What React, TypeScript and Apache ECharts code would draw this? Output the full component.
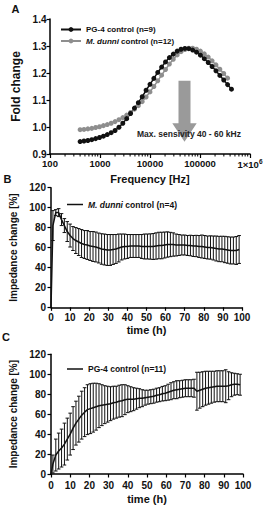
import React, { useEffect, useRef } from "react";
import * as echarts from "echarts";

const FONT = "'Liberation Sans', Arial, Helvetica, sans-serif";

// Panel A: frequency sweep
const freqHz = [400, 478, 572, 684, 818, 978, 1169, 1398, 1672, 2000, 2391, 2859, 3419, 4087, 4887, 5843, 6987, 8354, 9989, 11944, 14282, 17077, 20419, 24415, 29193, 34906, 41737, 49905, 59672, 71350, 85313, 102009, 121972, 145842, 174384, 208511, 249317, 298108, 356449, 426207];
const pg4Fold = [0.946, 0.948, 0.95, 0.953, 0.957, 0.961, 0.966, 0.972, 0.979, 0.987, 0.999, 1.014, 1.031, 1.05, 1.07, 1.09, 1.112, 1.136, 1.158, 1.18, 1.202, 1.222, 1.241, 1.257, 1.27, 1.281, 1.288, 1.291, 1.29, 1.285, 1.277, 1.266, 1.253, 1.239, 1.224, 1.208, 1.191, 1.174, 1.157, 1.14];
const dunniFold = [0.99, 0.991, 0.993, 0.995, 0.998, 1.001, 1.005, 1.009, 1.014, 1.02, 1.027, 1.035, 1.044, 1.054, 1.066, 1.079, 1.094, 1.111, 1.13, 1.15, 1.171, 1.192, 1.213, 1.233, 1.251, 1.267, 1.279, 1.287, 1.292, 1.292, 1.288, 1.281, 1.271, 1.259, 1.245, 1.23, 1.214, 1.198, 1.181];
const freqTicksHz = [100, 1000, 10000, 100000, 1000000];
const freqMinorTicksHz = [200, 300, 400, 500, 600, 700, 800, 900, 2000, 3000, 4000, 5000, 6000, 7000, 8000, 9000, 20000, 30000, 40000, 50000, 60000, 70000, 80000, 90000, 200000, 300000, 400000, 500000, 600000, 700000, 800000, 900000];

// Panels B and C: time course (mean and SD)
const timeH = [0, 1, 2.5, 4, 5.5, 7, 8.5, 10, 11.5, 13, 14.5, 16, 17.5, 19, 20.5, 22, 23.5, 25, 26.5, 28, 29.5, 31, 32.5, 34, 35.5, 37, 38.5, 40, 41.5, 43, 44.5, 46, 47.5, 49, 50.5, 52, 53.5, 55, 56.5, 58, 59.5, 61, 62.5, 64, 65.5, 67, 68.5, 70, 71.5, 73, 74.5, 76, 77.5, 79, 80.5, 82, 83.5, 85, 86.5, 88, 89.5, 91, 92.5, 94, 95.5, 97, 98.5];
const dunniMean = [0, 82, 95, 95, 88, 82, 76, 72, 69, 67, 65.5, 64, 63, 62.5, 61.5, 61, 60.5, 59.5, 58.5, 58, 57.5, 57.5, 58, 58.5, 59.5, 60.5, 61, 61, 61.5, 61.5, 61.5, 61.5, 61, 61, 61, 61, 61, 61.5, 62, 62, 62.5, 63, 63, 63, 62.5, 62.5, 62.5, 62.5, 62, 62, 61.5, 61.5, 61, 61, 60.5, 60, 60, 59.5, 59, 58.5, 58.5, 58, 57.5, 57, 57, 57, 58];
const dunniSd = [0, 15, 3, 4, 6, 7, 10, 11.5, 12, 13, 13.5, 14, 14, 14.5, 14.5, 15, 15, 15, 15.3, 15.5, 15.5, 15.5, 15, 14.5, 14, 13, 12.5, 12, 11.5, 11.5, 11.5, 11.5, 12, 12.5, 12.5, 12.7, 13, 13.2, 13.3, 13.3, 13, 12.7, 12.2, 11.7, 11, 10.5, 10, 10, 10, 10.3, 10.5, 10.7, 11, 11.5, 11.5, 11.5, 11.7, 12, 12.5, 12.7, 12.8, 13.2, 13.3, 13.5, 13.5, 14, 14];
const pg4Mean = [0, 10, 19, 23, 26, 30, 35, 40, 46, 51, 55, 59, 62, 64.5, 65.5, 66.5, 67.5, 68.5, 69, 69.5, 70, 70.5, 71.5, 72, 73, 73.5, 74.5, 75, 75, 75, 75.5, 76, 76, 76.5, 77, 77.5, 78, 79, 79.5, 80.5, 81, 82, 83, 84, 84.5, 85, 85.5, 86, 86, 86, 86, 83, 84, 85, 86, 86.5, 87, 87.5, 88, 88, 88, 88, 88.5, 89.5, 90, 90, 89.5];
const pg4Sd = [0, 9, 16, 18, 19, 21, 21, 21, 21.5, 22, 23, 24, 24.5, 25, 25, 24.5, 23.5, 22, 20.5, 19, 18, 17, 16.5, 16, 16, 16, 15, 13.5, 12.5, 11.5, 10.5, 9.5, 8.5, 7.5, 7, 7, 7, 7, 7, 7.3, 7.5, 8, 8.5, 8.5, 9, 8.5, 8.5, 8.5, 8.5, 8.5, 9, 19, 18, 17.5, 17, 16.5, 16, 15.5, 15.5, 15.5, 15.5, 16.5, 14, 12, 11, 10.5, 10.5];

const NAME_PG4_A = "PG-4 control (n=9)";
const NAME_DUNNI_A = "M. dunni control (n=12)";
const NAME_DUNNI_B = "M. dunni control (n=4)";
const NAME_PG4_C = "PG-4 control (n=11)";

const italicFormatter = (name: string) =>
  name.startsWith("M. dunni") ? "{i|M. dunni}" + name.slice(8) : name;

function errorBarSeries(idx: number, mean: number[], sd: number[]) {
  const data = timeH
    .map((t, i) => [t, mean[i] - sd[i], mean[i] + sd[i]])
    .filter((d, i) => sd[i] > 0);
  return {
    type: "custom",
    xAxisIndex: idx,
    yAxisIndex: idx,
    silent: true,
    encode: { x: 0, y: [1, 2] },
    data,
    renderItem: (params: any, api: any) => {
      const x = api.value(0);
      const hi = api.coord([x, api.value(2)]);
      const lo = api.coord([x, api.value(1)]);
      const w = 1.8;
      const st = { stroke: "#111", lineWidth: 1 };
      return {
        type: "group",
        children: [
          { type: "line", shape: { x1: hi[0], y1: hi[1], x2: lo[0], y2: lo[1] }, style: st },
          { type: "line", shape: { x1: hi[0] - w, y1: hi[1], x2: hi[0] + w, y2: hi[1] }, style: st },
          { type: "line", shape: { x1: lo[0] - w, y1: lo[1], x2: lo[0] + w, y2: lo[1] }, style: st },
        ],
      };
    },
  };
}

const axisLineStyle = { color: "#000", width: 1.5 };
const tickLabel = { color: "#111", fontFamily: FONT, fontWeight: "bold" as const, fontSize: 10 };

function timeAxes(idx: number, xGap: number, yGap: number, xMargin: number) {
  const x = {
    type: "value",
    gridIndex: idx,
    min: 0,
    max: 100,
    interval: 10,
    axisLine: { show: true, onZero: false, lineStyle: axisLineStyle },
    axisTick: { show: true, length: 3.5, lineStyle: { width: 1.2, color: "#000" } },
    axisLabel: { ...tickLabel, margin: xMargin },
    splitLine: { show: false },
    name: "time (h)",
    nameLocation: "middle",
    nameGap: xGap,
    nameTextStyle: { fontFamily: FONT, fontWeight: "bold", fontSize: 11, color: "#111" },
  };
  const y = {
    type: "value",
    gridIndex: idx,
    min: 0,
    max: 120,
    interval: 20,
    axisLine: { show: true, lineStyle: axisLineStyle },
    axisTick: { show: true, length: 3.5, lineStyle: { width: 1.2, color: "#000" } },
    axisLabel: { ...tickLabel, margin: 5 },
    splitLine: { show: false },
    name: "Impedance change [%]",
    nameLocation: "middle",
    nameGap: yGap,
    nameTextStyle: { fontFamily: FONT, fontWeight: "bold", fontSize: 10, color: "#111" },
  };
  return { x, y };
}

export default function App() {
  const ref = useRef<HTMLDivElement>(null);
  useEffect(() => {
    if (!ref.current) return;
    const chart = echarts.init(ref.current, undefined, { renderer: "svg" });
    const tB = timeAxes(1, 17, 19, 5.5);
    const tC = timeAxes(2, 19, 19, 6);
    const legendText = {
      fontFamily: FONT,
      fontWeight: "bold" as const,
      color: "#111",
    };
    const option: any = {
      animation: false,
      backgroundColor: "#fff",
      grid: [
        { left: 50, top: 19, width: 200, height: 135 },
        { left: 51, top: 187.7, width: 191, height: 119.6 },
        { left: 51, top: 354.3, width: 192, height: 119.7 },
      ],
      xAxis: [
        {
          type: "log",
          gridIndex: 0,
          logBase: 10,
          min: freqTicksHz[0],
          max: freqTicksHz[freqTicksHz.length - 1],
          axisLine: { show: true, onZero: false, lineStyle: axisLineStyle },
          axisTick: { show: true, length: 4, lineStyle: { width: 1.2, color: "#000" } },
          axisLabel: {
            ...tickLabel,
            fontSize: 9.5,
            margin: 4,
            formatter: (v: number) => (v >= 999999 ? "1×10{sup|6}" : String(Math.round(v))),
            rich: {
              sup: { fontFamily: FONT, fontWeight: "bold", fontSize: 6.5, color: "#111", verticalAlign: "top", padding: [0, 0, 6, 0] },
            },
          },
          splitLine: { show: false },
          minorTick: { show: false },
          name: "Frequency [Hz]",
          nameLocation: "middle",
          nameGap: 19,
          nameTextStyle: { fontFamily: FONT, fontWeight: "bold", fontSize: 11, color: "#111" },
        },
        tB.x,
        tC.x,
      ],
      yAxis: [
        {
          type: "value",
          gridIndex: 0,
          min: 0.9,
          max: 1.4,
          interval: 0.1,
          axisLine: { show: true, lineStyle: axisLineStyle },
          axisTick: { show: true, length: 3.5, lineStyle: { width: 1.2, color: "#000" } },
          axisLabel: { ...tickLabel, margin: 3.5, formatter: (v: number) => v.toFixed(1) },
          splitLine: { show: false },
          name: "Fold change",
          nameLocation: "middle",
          nameGap: 20,
          nameTextStyle: { fontFamily: FONT, fontWeight: "bold", fontSize: 12, color: "#111" },
        },
        tB.y,
        tC.y,
      ],
      legend: [
        {
          data: [NAME_PG4_A, NAME_DUNNI_A],
          orient: "vertical",
          left: 55,
          top: 20.5,
          itemWidth: 20,
          itemHeight: 6,
          itemGap: 3.5,
          formatter: italicFormatter,
          textStyle: {
            ...legendText,
            fontSize: 8,
            rich: { i: { ...legendText, fontSize: 8, fontStyle: "italic" } },
          },
        },
        {
          data: [{ name: NAME_DUNNI_B, icon: "rect" }],
          left: 62,
          top: 195,
          itemWidth: 16,
          itemHeight: 1.5,
          formatter: italicFormatter,
          textStyle: {
            ...legendText,
            fontSize: 8.5,
            rich: { i: { ...legendText, fontSize: 8.5, fontStyle: "italic" } },
          },
        },
        {
          data: [{ name: NAME_PG4_C, icon: "rect" }],
          left: 62,
          top: 359.5,
          itemWidth: 16,
          itemHeight: 1.5,
          textStyle: { ...legendText, fontSize: 8.5 },
        },
      ],
      series: [
        {
          type: "custom",
          xAxisIndex: 0,
          yAxisIndex: 0,
          silent: true,
          clip: false,
          data: freqMinorTicksHz.map((f) => [f, 0.9]),
          renderItem: (params: any, api: any) => {
            const p = api.coord([api.value(0), api.value(1)]);
            return {
              type: "line",
              shape: { x1: p[0], y1: p[1], x2: p[0], y2: p[1] + 2.5 },
              style: { stroke: "#000", lineWidth: 1 },
            };
          },
        },
        {
          name: NAME_DUNNI_A,
          type: "line",
          xAxisIndex: 0,
          yAxisIndex: 0,
          data: dunniFold.map((v, i) => [freqHz[i], v]),
          symbol: "circle",
          symbolSize: 5,
          color: "#8e8e8e",
          lineStyle: { width: 1.5, color: "#8e8e8e" },
          itemStyle: { color: "#8e8e8e" },
        },
        {
          name: NAME_PG4_A,
          type: "line",
          xAxisIndex: 0,
          yAxisIndex: 0,
          data: pg4Fold.map((v, i) => [freqHz[i], v]),
          symbol: "circle",
          symbolSize: 5,
          color: "#111",
          lineStyle: { width: 1.5, color: "#111" },
          itemStyle: { color: "#111" },
        },
        errorBarSeries(1, dunniMean, dunniSd),
        {
          name: NAME_DUNNI_B,
          type: "line",
          xAxisIndex: 1,
          yAxisIndex: 1,
          data: timeH.map((t, i) => [t, dunniMean[i]]),
          symbol: "none",
          color: "#111",
          lineStyle: { width: 1.5, color: "#111" },
        },
        errorBarSeries(2, pg4Mean, pg4Sd),
        {
          name: NAME_PG4_C,
          type: "line",
          xAxisIndex: 2,
          yAxisIndex: 2,
          data: timeH.map((t, i) => [t, pg4Mean[i]]),
          symbol: "none",
          color: "#111",
          lineStyle: { width: 1.5, color: "#111" },
        },
      ],
      graphic: [
        {
          type: "polygon",
          shape: {
            points: [
              [178.5, 80.7],
              [190.5, 80.7],
              [190.5, 123.3],
              [196.7, 123.3],
              [184.5, 141.7],
              [172.3, 123.3],
              [178.5, 123.3],
            ],
          },
          style: { fill: "#9a9a9a" },
          z: 10,
        },
        {
          type: "text",
          x: 137,
          y: 133.5,
          z: 11,
          style: { text: "Max. sensivity 40 - 60 kHz", fill: "#222", fontFamily: FONT, fontWeight: "bold", fontSize: 8.5, align: "left", verticalAlign: "middle" },
        },
        { type: "text", x: 11.5, y: 8.5, style: { text: "A", fill: "#111", fontFamily: FONT, fontWeight: "bold", fontSize: 11, align: "left", verticalAlign: "middle" } },
        { type: "text", x: 3.5, y: 178.5, style: { text: "B", fill: "#111", fontFamily: FONT, fontWeight: "bold", fontSize: 11, align: "left", verticalAlign: "middle" } },
        { type: "text", x: 2, y: 336.5, style: { text: "C", fill: "#111", fontFamily: FONT, fontWeight: "bold", fontSize: 11, align: "left", verticalAlign: "middle" } },
      ],
    };
    chart.setOption(option);
    return () => chart.dispose();
  }, []);
  return <div ref={ref} style={{ position: "absolute", left: 0, top: 0, width: 267, height: 506 }} />;
}
